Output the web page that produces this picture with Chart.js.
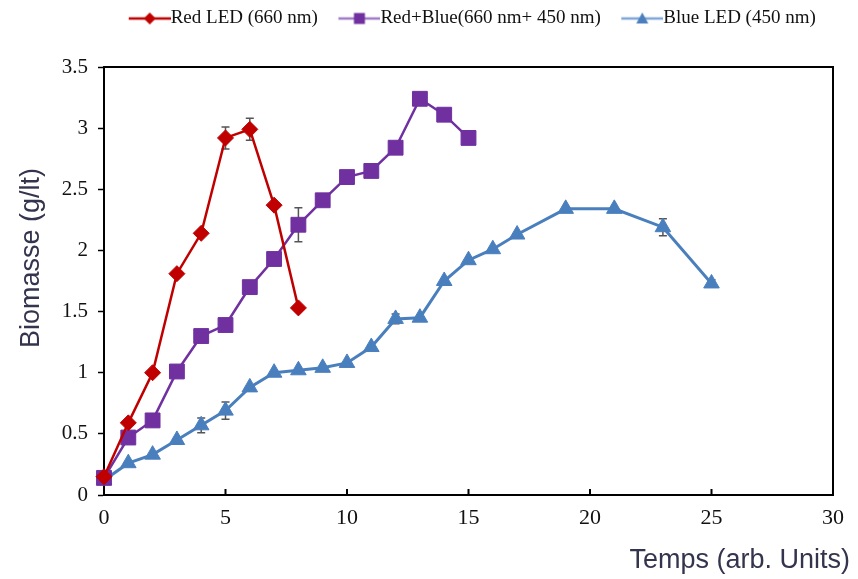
<!DOCTYPE html>
<html>
<head>
<meta charset="utf-8">
<script src="https://cdn.jsdelivr.net/npm/chart.js@4.4.1/dist/chart.umd.min.js"></script>
<style>
html, body { margin: 0; padding: 0; background: #fff; }
#wrap { width: 858px; height: 579px; }
</style>
</head>
<body>
<div id="wrap"><canvas id="chart" width="858" height="579"></canvas></div>
<script>
// valeurs
const redX = [0, 1, 2, 3, 4, 5, 6, 7, 8];
const redY = [0.15, 0.59, 1.00, 1.81, 2.14, 2.92, 2.99, 2.37, 1.53];
const redErr = [0, 0, 0, 0, 0, 0.09, 0.09, 0, 0];

const purpleX = [0, 1, 2, 3, 4, 5, 6, 7, 8, 9, 10, 11, 12, 13, 14, 15];
const purpleY = [0.14, 0.47, 0.61, 1.01, 1.30, 1.39, 1.70, 1.93, 2.21, 2.41, 2.60, 2.65, 2.84, 3.24, 3.11, 2.92];
const purpleErr = [0, 0, 0, 0, 0, 0, 0, 0, 0.14, 0, 0, 0, 0, 0, 0, 0];

const blueX = [0, 1, 2, 3, 4, 5, 6, 7, 8, 9, 10, 11, 12, 13, 14, 15, 16, 17, 19, 21, 23, 25];
const blueY = [0.12, 0.26, 0.33, 0.45, 0.57, 0.69, 0.88, 1.00, 1.02, 1.04, 1.08, 1.21, 1.44, 1.45, 1.75, 1.92, 2.01, 2.13, 2.34, 2.34, 2.19, 1.73];
const blueErr = [0, 0, 0, 0, 0.06, 0.07, 0, 0, 0, 0, 0, 0, 0.04, 0, 0, 0, 0, 0, 0, 0, 0.07, 0.03];

const seriesLabels = ['Red LED (660 nm)', 'Red+Blue(660 nm+ 450 nm)', 'Blue LED (450 nm)'];
const seriesColors = ['#c00000', '#7030a0', '#4a7fbe'];
const legendLineColors = ['#c00000', '#a07cc8', '#7fa6d8'];
const xTicks = [0, 5, 10, 15, 20, 25, 30];
const yTicks = [0, 0.5, 1, 1.5, 2, 2.5, 3, 3.5];

const xTitle = 'Temps (arb. Units)';
const yTitle = 'Biomasse (g/lt)';

function toPoints(xs, ys) {
    return xs.map((x, i) => ({ x: x, y: ys[i] }));
}

// petite icone de légende : trait + marqueur
function makeLegendIcon(lineColor, markColor, shape) {
    const c = document.createElement('canvas');
    c.width = 63;
    c.height = 16;
    const g = c.getContext('2d');
    g.strokeStyle = lineColor;
    g.lineWidth = 2.5;
    g.beginPath();
    g.moveTo(21, 8);
    g.lineTo(63, 8);
    g.stroke();
    g.fillStyle = markColor;
    const cx = 42, cy = 8;
    g.beginPath();
    if (shape === 'diamond') {
        g.moveTo(cx, cy - 6); g.lineTo(cx + 6, cy); g.lineTo(cx, cy + 6); g.lineTo(cx - 6, cy);
    } else if (shape === 'square') {
        g.rect(cx - 5.5, cy - 5.5, 11, 11);
    } else {
        g.moveTo(cx, cy - 6); g.lineTo(cx + 6, cy + 5); g.lineTo(cx - 6, cy + 5);
    }
    g.closePath();
    g.fill();
    return c;
}

const legendIcons = [
    makeLegendIcon(legendLineColors[0], seriesColors[0], 'diamond'),
    makeLegendIcon(legendLineColors[1], seriesColors[1], 'square'),
    makeLegendIcon(legendLineColors[2], seriesColors[2], 'triangle')
];

const errorSets = [redErr, purpleErr, blueErr];

// barres d'erreur (dessinées sous les marqueurs)
const errorBars = {
    id: 'errorBars',
    beforeDatasetsDraw(chart) {
        const ctx = chart.ctx;
        const yScale = chart.scales.y;
        ctx.save();
        ctx.strokeStyle = '#555';
        ctx.lineWidth = 1.5;
        chart.data.datasets.forEach((ds, di) => {
            const meta = chart.getDatasetMeta(di);
            const errs = errorSets[di];
            meta.data.forEach((pt, i) => {
                const e = errs[i];
                if (!e) return;
                const v = ds.data[i].y;
                const yTop = yScale.getPixelForValue(v + e);
                const yBot = yScale.getPixelForValue(v - e);
                ctx.beginPath();
                ctx.moveTo(pt.x, yTop); ctx.lineTo(pt.x, yBot);
                ctx.moveTo(pt.x - 4, yTop); ctx.lineTo(pt.x + 4, yTop);
                ctx.moveTo(pt.x - 4, yBot); ctx.lineTo(pt.x + 4, yBot);
                ctx.stroke();
            });
        });
        ctx.restore();
    }
};

// décale la légende vers la droite comme sur la figure
const legendShift = {
    id: 'legendShift',
    afterLayout(chart) {
        if (chart.legend) {
            chart.legend.left += 50;
            chart.legend.right += 50;
        }
    }
};

// cadre, graduations intérieures de l'axe x, titres des axes
const frame = {
    id: 'frame',
    afterDraw(chart) {
        const ctx = chart.ctx;
        const a = chart.chartArea;
        const xs = chart.scales.x;
        ctx.save();
        ctx.strokeStyle = '#000';
        ctx.lineWidth = 2;
        ctx.beginPath();
        ctx.moveTo(a.left, a.top); ctx.lineTo(a.right, a.top); ctx.lineTo(a.right, a.bottom);
        xs.ticks.forEach(t => {
            const px = xs.getPixelForValue(t.value);
            ctx.moveTo(px, a.bottom); ctx.lineTo(px, a.bottom - 6);
        });
        ctx.stroke();

        ctx.fillStyle = '#34344e';
        ctx.font = '27px "Liberation Sans", Arial, sans-serif';
        ctx.textAlign = 'right';
        ctx.textBaseline = 'middle';
        ctx.fillText(xTitle, 850, 561);

        ctx.translate(32, 258);
        ctx.rotate(-Math.PI / 2);
        ctx.textAlign = 'center';
        ctx.fillText(yTitle, 0, 0);
        ctx.restore();
    }
};

const serifFont = '"Liberation Serif", "Times New Roman", serif';

const ctx = document.getElementById('chart').getContext('2d');
new Chart(ctx, {
    type: 'line',
    data: {
        datasets: [
            {
                label: seriesLabels[0],
                data: toPoints(redX, redY),
                borderColor: seriesColors[0],
                backgroundColor: seriesColors[0],
                borderWidth: 2.5,
                pointStyle: 'rectRot',
                pointRadius: 8,
                pointBorderWidth: 1,
                clip: false
            },
            {
                label: seriesLabels[1],
                data: toPoints(purpleX, purpleY),
                borderColor: seriesColors[1],
                backgroundColor: seriesColors[1],
                borderWidth: 2.5,
                pointStyle: 'rect',
                pointRadius: 10.5,
                pointBorderWidth: 1,
                clip: false
            },
            {
                label: seriesLabels[2],
                data: toPoints(blueX, blueY),
                borderColor: seriesColors[2],
                backgroundColor: seriesColors[2],
                borderWidth: 3,
                pointStyle: 'triangle',
                pointRadius: 9,
                pointBorderWidth: 1,
                clip: false
            }
        ]
    },
    options: {
        responsive: false,
        animation: false,
        devicePixelRatio: 1,
        layout: { padding: { left: 0, right: 25, top: 0, bottom: 0 } },
        plugins: {
            tooltip: { enabled: false },
            legend: {
                position: 'top',
                align: 'center',
                labels: {
                    usePointStyle: true,
                    pointStyleWidth: 44,
                    padding: 9,
                    color: '#111',
                    font: { family: serifFont, size: 19, lineHeight: 1 },
                    generateLabels(chart) {
                        return chart.data.datasets.map((ds, i) => ({
                            text: ds.label,
                            pointStyle: legendIcons[i],
                            fillStyle: ds.borderColor,
                            strokeStyle: ds.borderColor,
                            lineWidth: 0,
                            hidden: false,
                            datasetIndex: i,
                            fontColor: '#111'
                        }));
                    }
                }
            }
        },
        scales: {
            x: {
                type: 'linear',
                position: 'bottom',
                min: xTicks[0],
                max: xTicks[xTicks.length - 1],
                afterBuildTicks(scale) { scale.ticks = xTicks.map(v => ({ value: v })); },
                afterFit(scale) { scale.height = 84; },
                grid: { display: true, drawOnChartArea: false, drawTicks: false },
                border: { display: true, color: '#000', width: 2 },
                ticks: {
                    padding: 10,
                    color: '#111',
                    maxRotation: 0,
                    font: { family: serifFont, size: 22 },
                    callback: v => String(v)
                }
            },
            xTop: {
                type: 'linear',
                position: 'top',
                min: 0,
                max: 30,
                afterFit(scale) { scale.height = 29; },
                grid: { display: false },
                border: { display: false },
                ticks: { display: false }
            },
            y: {
                type: 'linear',
                position: 'left',
                min: yTicks[0],
                max: yTicks[yTicks.length - 1],
                afterBuildTicks(scale) { scale.ticks = yTicks.map(v => ({ value: v })); },
                afterFit(scale) { scale.width = 104; },
                grid: { display: true, drawOnChartArea: false, drawTicks: true, tickLength: 6, tickColor: '#000', tickWidth: 1.5 },
                border: { display: true, color: '#000', width: 2 },
                ticks: {
                    padding: 10,
                    color: '#111',
                    font: { family: serifFont, size: 21 },
                    callback: v => String(v)
                }
            }
        }
    },
    plugins: [errorBars, legendShift, frame]
});
</script>
</body>
</html>
